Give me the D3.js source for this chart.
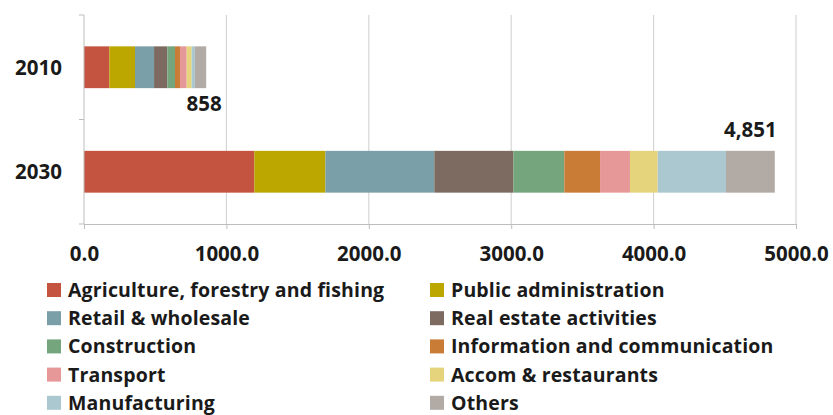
<!DOCTYPE html>
<html>
<head>
<meta charset="utf-8">
<script src="https://cdn.jsdelivr.net/npm/d3@7"></script>
<style>
  html, body { margin: 0; padding: 0; background: #fff; }
  svg text { font-family: "Open Sans", Lato, sans-serif; font-weight: bold; fill: #1a1a1a; }
</style>
</head>
<body>
<svg id="chart" width="833" height="415"></svg>
<script>
// Sector contributions by year (stacked, left to right)
const years = ["2010", "2030"];
const sectors = [
  "Agriculture, forestry and fishing", "Public administration",
  "Retail & wholesale", "Real estate activities",
  "Construction", "Information and communication",
  "Transport", "Accom & restaurants",
  "Manufacturing", "Others"
];
const values2010 = [178, 180, 134, 93, 54, 35, 47, 35, 23, 79];
const values2030 = [1196, 499, 765, 555, 358, 251, 210, 195, 479, 343];
const totalLabels = ["858", "4,851"];
const sectorColors = [
  "#c4533f", "#bca600", "#7b9fa8", "#7d6b61", "#74a57c",
  "#c97c36", "#e69797", "#e5d47c", "#abc7cf", "#b2aaa4"
];
const xTicks = [0, 1000, 2000, 3000, 4000, 5000];

const numSize = 20.5;

const svg = d3.select("#chart");
const margin = { left: 84, right: 37, top: 15, bottom: 191 };
const W = 833, H = 415;
const plotW = W - margin.left - margin.right;
const plotH = H - margin.top - margin.bottom;

const g = svg.append("g").attr("transform", `translate(${margin.left},${margin.top})`);

const x = d3.scaleLinear().domain([0, 5000]).range([0, plotW]);
const y = d3.scaleBand().domain(years).range([0, plotH]).paddingInner(0.6).paddingOuter(0.3);

// vertical gridlines
g.append("g").selectAll("line").data(xTicks.slice(1)).join("line")
  .attr("x1", d => x(d)).attr("x2", d => x(d))
  .attr("y1", 0).attr("y2", plotH)
  .attr("stroke", "#cfcfcf").attr("stroke-width", 1);

// stacked bars
const rows = years.map((yr, i) => {
  const vals = i === 0 ? values2010 : values2030;
  const row = { year: yr };
  sectors.forEach((s, j) => row[s] = vals[j]);
  return row;
});
const stack = d3.stack().keys(sectors)(rows);
g.append("g").selectAll("g").data(stack).join("g")
  .attr("fill", (d, i) => sectorColors[i])
  .selectAll("rect").data(d => d).join("rect")
  .attr("x", d => x(d[0]))
  .attr("width", d => x(d[1]) - x(d[0]))
  .attr("y", d => y(d.data.year))
  .attr("height", y.bandwidth());

// x axis
const xAxis = g.append("g").attr("transform", `translate(0,${plotH})`)
  .call(d3.axisBottom(x).tickValues(xTicks).tickFormat(d3.format(".1f")).tickSize(5).tickSizeOuter(0));
xAxis.select(".domain").attr("stroke", "#bdbdbd");
xAxis.selectAll(".tick line").attr("stroke", "#bdbdbd");
xAxis.selectAll("text").attr("font-size", numSize).attr("y", 37).attr("dy", 0).attr("fill", "#1a1a1a");

// y axis with ticks between categories
const yAxisG = g.append("g");
yAxisG.append("line").attr("x1", 0).attr("x2", 0).attr("y1", 0).attr("y2", plotH).attr("stroke", "#bdbdbd");
const boundaries = [0, (y("2010") + y.bandwidth() + y("2030")) / 2, plotH];
yAxisG.selectAll(".yt").data(boundaries).join("line")
  .attr("x1", -5).attr("x2", 0).attr("y1", d => d).attr("y2", d => d).attr("stroke", "#bdbdbd");
yAxisG.selectAll(".yl").data(years).join("text")
  .attr("x", -22).attr("y", d => y(d) + y.bandwidth() / 2)
  .attr("dy", "0.36em").attr("text-anchor", "end").attr("font-size", numSize)
  .text(d => d);

// totals
const totals = [d3.sum(values2010), d3.sum(values2030)];
g.append("text").attr("x", x(totals[0]) - 2).attr("y", y("2010") + y.bandwidth() + 23)
  .attr("text-anchor", "middle").attr("font-size", numSize).text(totalLabels[0]);
g.append("text").attr("x", x(totals[1]) + 2).attr("y", y("2030") - 14)
  .attr("text-anchor", "end").attr("font-size", numSize).text(totalLabels[1]);

// legend: two columns
const legend = svg.append("g");
const colX = [47, 430], rowY0 = 290, rowStep = 28.2;
const items = legend.selectAll("g").data(sectors).join("g")
  .attr("transform", (d, i) => `translate(${colX[i % 2]},${rowY0 + Math.floor(i / 2) * rowStep})`);
items.append("rect").attr("x", 0).attr("y", -7).attr("width", 14).attr("height", 14)
  .attr("fill", (d, i) => sectorColors[i]);
items.append("text").attr("x", 21).attr("y", 0).attr("dy", "0.36em")
  .attr("font-size", 19.5).attr("letter-spacing", 0.15).text(d => d);
</script>
</body>
</html>
